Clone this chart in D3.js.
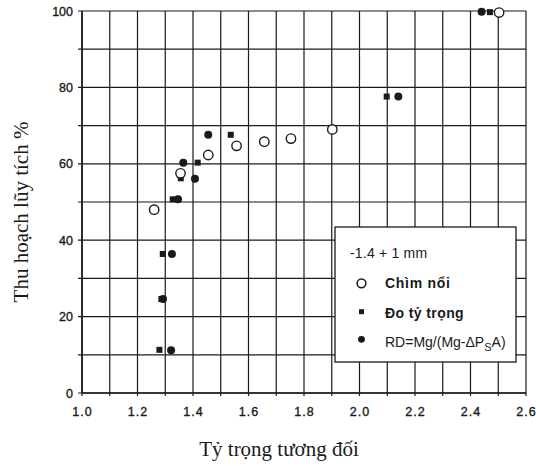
<!DOCTYPE html>
<html>
<head>
<meta charset="utf-8">
<script src="https://cdn.jsdelivr.net/npm/d3@7"></script>
<style>
  html, body { margin: 0; padding: 0; background: #fff; }
  svg { display: block; }
</style>
</head>
<body>
<svg id="chart" width="536" height="466"></svg>
<script>
// ---- data ----
const xTicks = [1.0, 1.2, 1.4, 1.6, 1.8, 2.0, 2.2, 2.4, 2.6];
const yTicks = [0, 20, 40, 60, 80, 100];
const legendTitle = "-1.4 + 1 mm";
const seriesNames = ["Chìm nổi", "Đo tỷ trọng", "RD=Mg/(Mg-ΔPSA)"];

// Chìm nổi (open circles)
const sinkFloatX = [1.26, 1.355, 1.455, 1.557, 1.657, 1.753, 1.902, 2.503];
const sinkFloatY = [48.0, 57.5, 62.3, 64.7, 65.8, 66.6, 69.0, 99.6];

// Đo tỷ trọng (filled squares)
const densX = [1.279, 1.286, 1.291, 1.327, 1.356, 1.417, 1.536, 2.098, 2.470];
const densY = [11.3, 24.6, 36.4, 50.7, 56.2, 60.3, 67.6, 77.6, 99.7];

// RD formula (filled circles)
const rdX = [1.321, 1.292, 1.324, 1.346, 1.407, 1.365, 1.455, 2.140, 2.440];
const rdY = [11.2, 24.6, 36.4, 50.7, 56.1, 60.3, 67.6, 77.6, 99.8];

// ---- layout ----
const svg = d3.select("#chart");
const x = d3.scaleLinear().domain([1.0, 2.6]).range([82, 526]);
const y = d3.scaleLinear().domain([0, 100]).range([393, 11]);

const ink = "#1a1a1a";

// grid
const gridX = d3.range(10, 27).map(d => d / 10);
const gridY = d3.range(0, 101, 10);
const g = svg.append("g");
g.selectAll("line.vx").data(gridX).enter().append("line")
  .attr("x1", d => x(d)).attr("x2", d => x(d))
  .attr("y1", y(100)).attr("y2", y(0) + 3)
  .attr("stroke", ink).attr("stroke-width", 1.2);
g.selectAll("line.hy").data(gridY).enter().append("line")
  .attr("x1", x(1.0) - 4).attr("x2", x(2.6))
  .attr("y1", d => y(d)).attr("y2", d => y(d))
  .attr("stroke", ink).attr("stroke-width", 1.2);

// axes labels via d3 axes (domain hidden)
const xAxis = d3.axisBottom(x).tickValues(xTicks).tickFormat(d3.format(".1f")).tickSize(0).tickPadding(14);
const yAxis = d3.axisLeft(y).tickValues(yTicks).tickFormat(d3.format("d")).tickSize(0).tickPadding(9);
const gx = svg.append("g").attr("transform", `translate(0,${y(0)})`).call(xAxis);
const gy = svg.append("g").attr("transform", `translate(${x(1.0)},0)`).call(yAxis);
[gx, gy].forEach(a => {
  a.select(".domain").remove();
  a.selectAll("text").attr("fill", ink)
    .attr("stroke", ink).attr("stroke-width", 0.35)
    .style("font-family", "'Liberation Sans', Arial, sans-serif")
    .style("font-size", "12.5px");
});
gx.selectAll("text").style("letter-spacing", "1px");

// axis lines heavier
svg.append("line").attr("x1", x(1.0)).attr("x2", x(1.0)).attr("y1", y(100)).attr("y2", y(0))
  .attr("stroke", ink).attr("stroke-width", 1.6);
svg.append("line").attr("x1", x(1.0)).attr("x2", x(2.6)).attr("y1", y(0)).attr("y2", y(0))
  .attr("stroke", ink).attr("stroke-width", 1.6);

// axis titles
svg.append("text").attr("x", 279).attr("y", 456).attr("text-anchor", "middle")
  .style("font-family", "'Liberation Serif', 'Times New Roman', serif").style("font-size", "21px")
  .attr("fill", ink).text("Tỷ trọng tương đối");
svg.append("text").attr("transform", "translate(28,212) rotate(-90)").attr("text-anchor", "middle")
  .style("font-family", "'Liberation Serif', 'Times New Roman', serif").style("font-size", "21px")
  .attr("fill", ink).text("Thu hoạch lũy tích %");

// marks
const pts = (xs, ys) => xs.map((v, i) => [v, ys[i]]);
svg.append("g").selectAll("rect").data(pts(densX, densY)).enter().append("rect")
  .attr("x", d => x(d[0]) - 3).attr("y", d => y(d[1]) - 3)
  .attr("width", 6).attr("height", 6).attr("fill", ink);
svg.append("g").selectAll("circle").data(pts(rdX, rdY)).enter().append("circle")
  .attr("cx", d => x(d[0])).attr("cy", d => y(d[1])).attr("r", 4).attr("fill", ink);
svg.append("g").selectAll("circle").data(pts(sinkFloatX, sinkFloatY)).enter().append("circle")
  .attr("cx", d => x(d[0])).attr("cy", d => y(d[1])).attr("r", 4.7)
  .attr("fill", "#fff").attr("stroke", ink).attr("stroke-width", 1.4);

// legend
const lg = svg.append("g");
lg.append("rect").attr("x", 335).attr("y", 227).attr("width", 181).attr("height", 135)
  .attr("fill", "#fff").attr("stroke", ink).attr("stroke-width", 1.3);
const lf = "'Liberation Sans', Arial, sans-serif";
lg.append("text").attr("x", 350).attr("y", 257.5).style("font-family", lf).style("font-size", "14px")
  .style("letter-spacing", "0.2px").attr("fill", ink).text(legendTitle);
lg.append("circle").attr("cx", 361.5).attr("cy", 283.3).attr("r", 4.4).attr("fill", "#fff")
  .attr("stroke", ink).attr("stroke-width", 1.5);
lg.append("rect").attr("x", 359).attr("y", 309.2).attr("width", 5).attr("height", 5).attr("fill", ink);
lg.append("circle").attr("cx", 361.5).attr("cy", 339.3).attr("r", 3.4).attr("fill", ink);
lg.append("text").attr("x", 385).attr("y", 288).style("font-family", lf).style("font-size", "14px")
  .style("font-weight", "bold").style("letter-spacing", "0.7px").attr("fill", ink).text(seriesNames[0]);
lg.append("text").attr("x", 385).attr("y", 318).style("font-family", lf).style("font-size", "14px")
  .style("font-weight", "bold").style("letter-spacing", "0.4px").attr("fill", ink).text(seriesNames[1]);
const rdt = lg.append("text").attr("x", 385).attr("y", 346.5).style("font-family", lf).style("font-size", "14px")
  .attr("fill", ink);
rdt.append("tspan").text("RD=Mg/(Mg-ΔP");
rdt.append("tspan").attr("dy", 4).style("font-size", "11px").text("S");
rdt.append("tspan").attr("dy", -4).text("A)");
</script>
</body>
</html>
